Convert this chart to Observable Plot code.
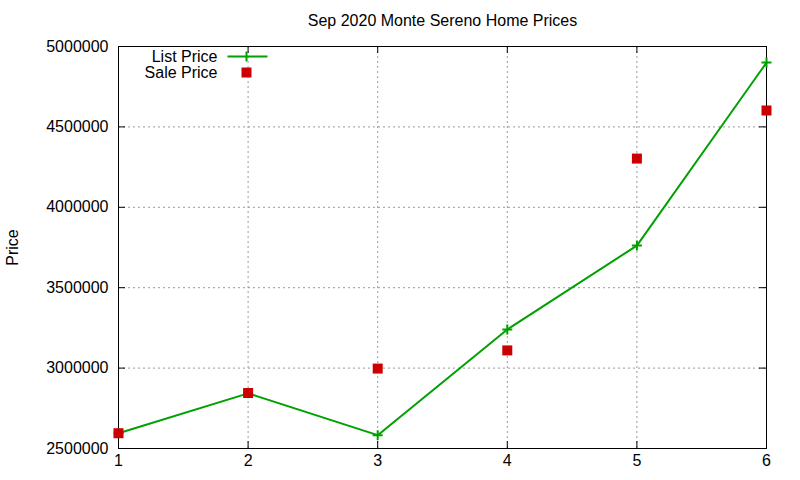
<!DOCTYPE html>
<html>
<head>
<meta charset="utf-8">
<script src="https://cdn.jsdelivr.net/npm/d3@7"></script>
<script src="https://cdn.jsdelivr.net/npm/@observablehq/plot@0.6"></script>
<style>
  html, body { margin: 0; padding: 0; background: white; }
</style>
</head>
<body>
<div id="chart"></div>
<script>
const title = "Sep 2020 Monte Sereno Home Prices";
const yLabel = "Price";
const seriesNames = ["List Price", "Sale Price"];
const months = [1, 2, 3, 4, 5, 6];
const listPrice = [2595000, 2843000, 2583000, 3240000, 3762000, 4900000];
const salePrice = [2595000, 2845000, 2997000, 3110000, 4303000, 4602000];
const xTicks = [1, 2, 3, 4, 5, 6];
const yTicks = [2500000, 3000000, 3500000, 4000000, 4500000, 5000000];

const green = "#00a000";
const red = "#cc0000";

const listData = months.map((m, i) => ({month: m, price: listPrice[i]}));
const saleData = months.map((m, i) => ({month: m, price: salePrice[i]}));

const plusSymbol = {draw(ctx) { ctx.moveTo(-5, 0); ctx.lineTo(5, 0); ctx.moveTo(0, -5); ctx.lineTo(0, 5); }};
const squareSymbol = {draw(ctx) { ctx.rect(-5, -5, 10, 10); }};
const legendLineSymbol = {draw(ctx) { ctx.moveTo(-19, 0); ctx.lineTo(21, 0); ctx.moveTo(0, -5); ctx.lineTo(0, 5); }};

const W = 800, H = 480, mL = 118, mR = 34, mT = 46, mB = 32;
const fw = W - mL - mR, fh = H - mT - mB;
const gridStyle = {stroke: "#999", strokeOpacity: 1, strokeDasharray: "2,3", strokeWidth: 1};
const FS = 16;

const chart = Plot.plot({
  width: W, height: H,
  marginLeft: mL, marginRight: mR, marginTop: mT, marginBottom: mB,
  style: {fontFamily: "'Liberation Sans', Arial, sans-serif", fontSize: FS + "px", color: "black", background: "white", overflow: "visible"},
  x: {domain: [1, 6], ticks: xTicks},
  y: {domain: [2500000, 5000000], ticks: yTicks},
  marks: [
    Plot.gridX(xTicks, gridStyle),
    Plot.gridY(yTicks, gridStyle),
    Plot.tickY(yTicks, {y: d => d, stroke: "black", insetRight: fw - 7}),
    Plot.tickY(yTicks, {y: d => d, stroke: "black", insetLeft: fw - 7}),
    Plot.tickX(xTicks, {x: d => d, stroke: "black", insetTop: fh - 7}),
    Plot.tickX(xTicks, {x: d => d, stroke: "black", insetBottom: fh - 7}),
    Plot.frame({stroke: "black", strokeWidth: 1}),
    Plot.axisY(yTicks, {tickSize: 0, tickPadding: 10, tickFormat: d3.format("d"), label: null, fontSize: FS, fill: "black"}),
    Plot.axisX(xTicks, {tickSize: 0, tickPadding: 6, tickFormat: d3.format("d"), label: null, fontSize: FS, fill: "black"}),
    Plot.line(listData, {x: "month", y: "price", stroke: green, strokeWidth: 2}),
    Plot.dot(listData, {x: "month", y: "price", symbol: plusSymbol, stroke: green, strokeWidth: 2, fill: "none"}),
    Plot.dot(saleData, {x: "month", y: "price", symbol: squareSymbol, fill: red, stroke: "none"}),
    Plot.text([title], {frameAnchor: "top", dy: -26, lineAnchor: "middle", fontSize: FS, fill: "black"}),
    Plot.text([yLabel], {frameAnchor: "left", dx: -106, rotate: -90, textAnchor: "middle", lineAnchor: "middle", fontSize: FS, fill: "black"}),
    Plot.text([seriesNames[0]], {frameAnchor: "top-left", dx: 99, dy: 10, textAnchor: "end", lineAnchor: "middle", fontSize: FS, fill: "black"}),
    Plot.text([seriesNames[1]], {frameAnchor: "top-left", dx: 99, dy: 26, textAnchor: "end", lineAnchor: "middle", fontSize: FS, fill: "black"}),
    Plot.dot([0], {frameAnchor: "top-left", dx: 128, dy: 10, symbol: legendLineSymbol, stroke: green, strokeWidth: 2, fill: "none"}),
    Plot.dot([0], {frameAnchor: "top-left", dx: 128, dy: 26, symbol: squareSymbol, fill: red, stroke: "none"})
  ]
});
document.getElementById("chart").appendChild(chart);
</script>
</body>
</html>
